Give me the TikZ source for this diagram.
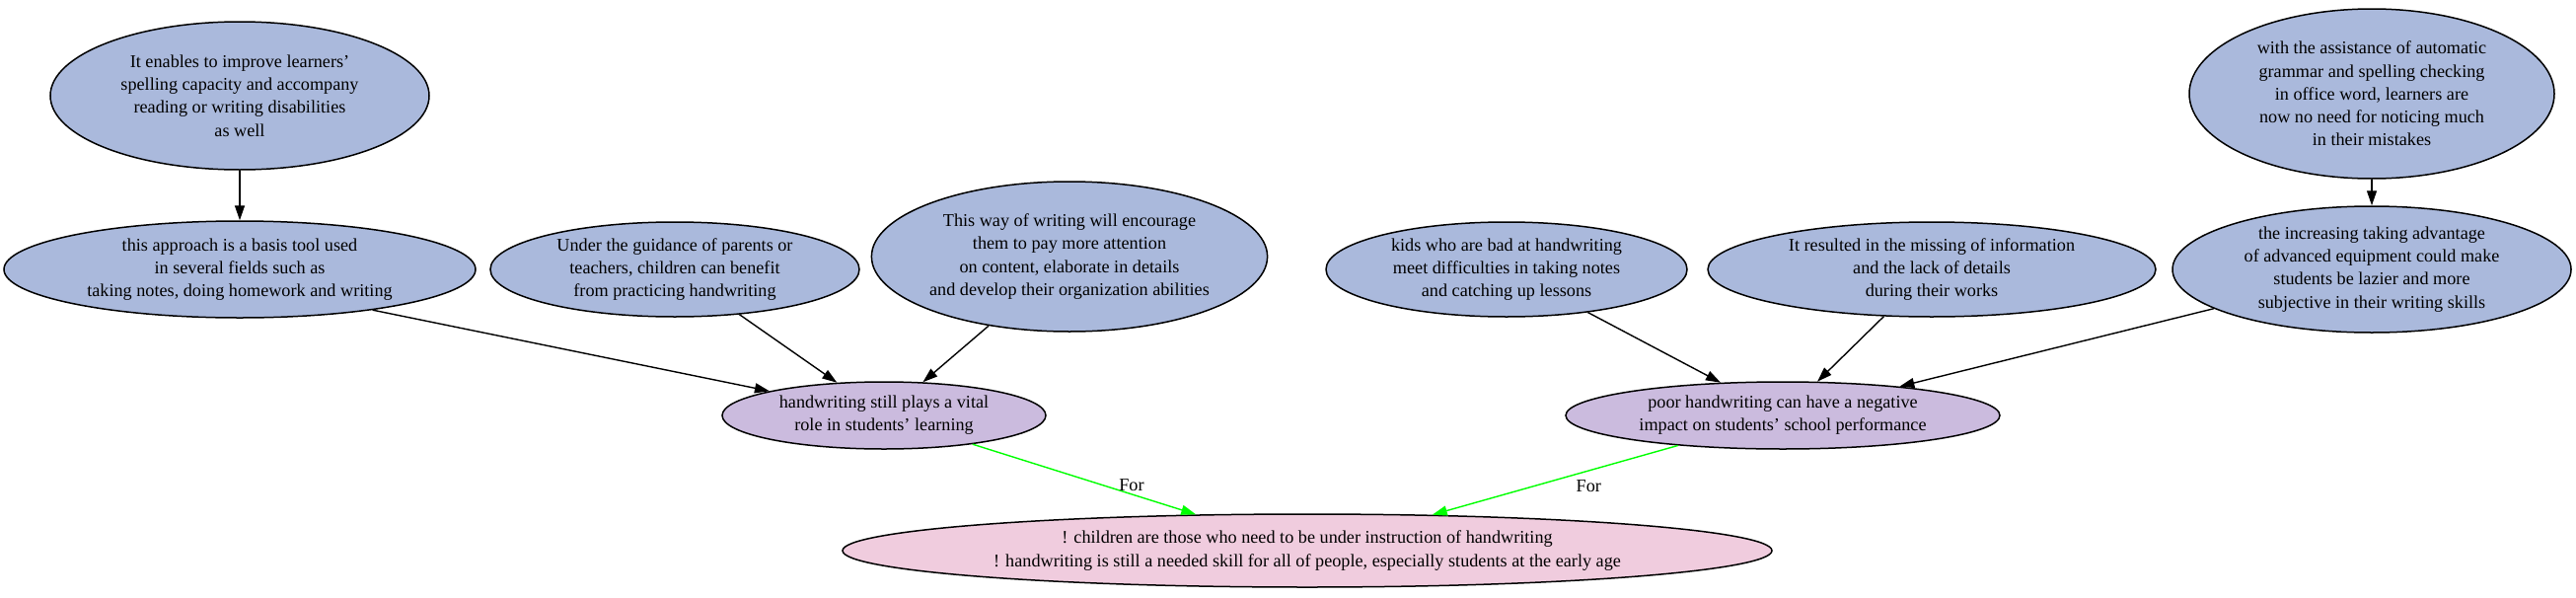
\documentclass[tikz,border=0pt]{standalone}
\usepackage{fontspec}
\setmainfont{Liberation Serif}
\usetikzlibrary{arrows.meta,shapes.geometric}
\definecolor{argblue}{RGB}{170,185,220}
\definecolor{claimlilac}{RGB}{203,187,222}
\definecolor{thesispink}{RGB}{240,204,222}
\definecolor{forgreen}{RGB}{0,255,0}

\tikzset{
  idea/.style={ellipse,draw,line width=0.75pt,fill=#1,inner sep=0pt,align=center,
    font=\fontsize{9.1}{11.6}\selectfont},
  idea/.default=argblue,
  link/.style={-{Triangle[length=7.5pt,width=5pt]},line width=0.7pt},
  forlink/.style={link,forgreen},
  forlabel/.style={midway,black,font=\fontsize{9.1}{11}\selectfont}
}

\begin{document}
\begin{tikzpicture}[x=0.5pt,y=-0.5pt]
        \useasboundingbox[fill=white] (0,0) rectangle (2611,605);
        % left branch
        \node[idea,minimum width=192pt,minimum height=75pt] (improve) at (243,97)
          {It enables to improve learners'\\spelling capacity and accompany\\reading or writing disabilities\\as well};
        \node[idea,minimum width=239pt,minimum height=49pt] (basis) at (243,273)
          {this approach is a basis tool used\\in several fields such as\\taking notes, doing homework and writing};
        \node[idea,minimum width=187pt,minimum height=48pt] (guidance) at (684,273)
          {Under the guidance of parents or\\teachers, children can benefit\\from practicing handwriting};
        \node[idea,minimum width=190pt,minimum height=76pt] (encourage) at (1084,260)
          {This way of writing will encourage\\them to pay more attention\\on content, elaborate in details\\and develop their organization abilities};
        \node[idea=claimlilac,minimum width=164pt,minimum height=34pt] (vital) at (896,421)
          {handwriting still plays a vital\\role in students' learning};
        % right branch
        \node[idea,minimum width=183pt,minimum height=48pt] (kids) at (1527,273)
          {kids who are bad at handwriting\\meet difficulties in taking notes\\and catching up lessons};
        \node[idea,minimum width=227pt,minimum height=48pt] (missing) at (1958,273)
          {It resulted in the missing of information\\and the lack of details\\during their works};
        \node[idea,minimum width=185pt,minimum height=86pt] (assist) at (2404,95)
          {with the assistance of automatic\\grammar and spelling checking\\in office word, learners are\\now no need for noticing much\\in their mistakes};
        \node[idea,minimum width=202pt,minimum height=64pt] (lazier) at (2404,273)
          {the increasing taking advantage\\of advanced equipment could make\\students be lazier and more\\subjective in their writing skills};
        \node[idea=claimlilac,minimum width=220pt,minimum height=34pt] (negative) at (1807,421)
          {poor handwriting can have a negative\\impact on students' school performance};
        % conclusion
        \node[idea=thesispink,minimum width=471pt,minimum height=37pt] (children) at (1325,558)
          {! children are those who need to be under instruction of handwriting\\! handwriting is still a needed skill for all of people, especially students at the early age};

        \draw[link] (improve) -- (basis);
        \draw[link] (basis.343) -- (vital.168);
        \draw[link] (guidance) -- (vital);
        \draw[link] (encourage) -- (vital);
        \draw[link] (assist) -- (lazier);
        \draw[link] (kids) -- (negative);
        \draw[link] (missing) -- (negative);
        \draw[link] (lazier) -- (negative);
        \draw[forlink] (vital.342) -- (children.162)
          node[forlabel,xshift=24pt,yshift=-3pt] {For};
        \draw[forlink] (negative.196) -- (children.16)
          node[forlabel,xshift=17pt,yshift=-3pt] {For};
      \end{tikzpicture}
\end{document}
